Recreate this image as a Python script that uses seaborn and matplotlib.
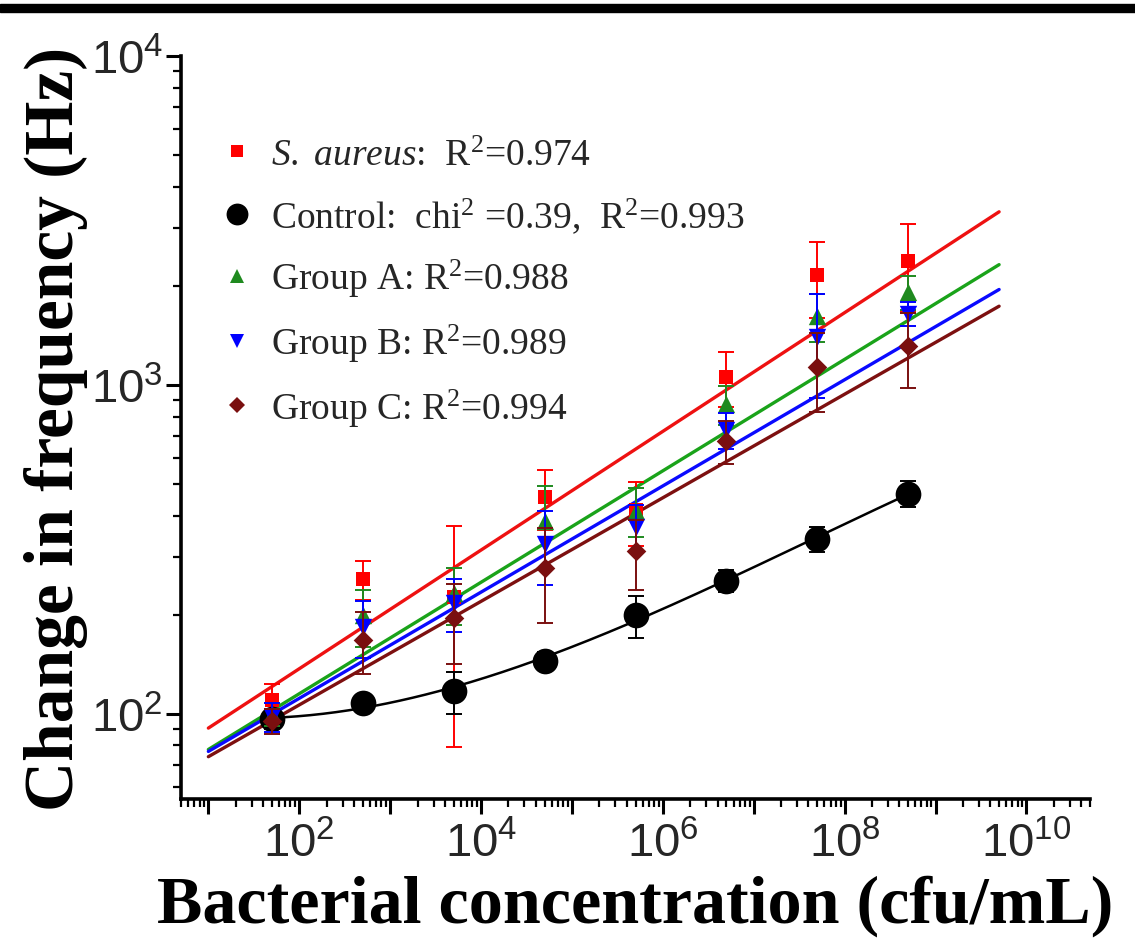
import numpy as np
import pandas as pd
import matplotlib
matplotlib.use("Agg")
import matplotlib.pyplot as plt
import seaborn as sns
from matplotlib.lines import Line2D
from matplotlib.patches import Rectangle
from matplotlib.ticker import LogLocator, FuncFormatter, NullFormatter

# ---------------- data ----------------
conc = [5e1, 5e2, 5e3, 5e4, 5e5, 5e6, 5e7, 5e8]
saureus = [110, 257, 226, 457, 415, 1057, 2158, 2382]
saureus_err = [13, 35, 147, 95, 92, 200, 560, 700]
control = [96, 108, 117, 145, 199, 254, 340, 467]
control_err = [6, 6, 17, 9, 29, 20, 30, 42]
group_a = [100, 199, 232, 384, 414, 875, 1622, 1918]
group_a_err = [8, 39, 46, 109, 70, 120, 268, 228]
group_b = [98, 184, 217, 329, 370, 730, 1400, 1645]
group_b_err = [10, 36, 40, 83, 60, 90, 490, 136]
group_c = [95, 168, 195, 278, 312, 676, 1134, 1315]
group_c_err = [8, 36, 53, 90, 75, 100, 307, 340]

# linear fits in log-log space (log10 y = a + b log10 x)
fit_x_range = [10, 5e9]
fit_intercepts = [1.7755, 1.7215, 1.7235, 1.7115]
fit_slopes = [0.1805, 0.1695, 0.1615, 0.1575]

labels = [r"$\mathit{S.\ aureus}$:  R$^2$=0.974",
          r"Control:  chi$^2$ =0.39,  R$^2$=0.993",
          r"Group A: R$^2$=0.988",
          r"Group B: R$^2$=0.989",
          r"Group C: R$^2$=0.994"]
x_label = "Bacterial concentration (cfu/mL)"
y_label = "Change in frequency (Hz)"

# ---------------- style ----------------
sns.set_theme(style="ticks")
plt.rcParams["font.family"] = ["Liberation Serif", "DejaVu Serif"]
plt.rcParams["mathtext.fontset"] = "custom"
plt.rcParams["mathtext.rm"] = "Liberation Serif"
plt.rcParams["mathtext.it"] = "Liberation Serif:italic"
plt.rcParams["mathtext.bf"] = "Liberation Serif:bold"
plt.rcParams["mathtext.sf"] = "Liberation Sans"

fig = plt.figure(figsize=(11.35, 9.53), dpi=100)
ax = fig.add_axes([181/1135, 1-800/953, (1090-181)/1135, (800-57)/953])

series = [
    (saureus, saureus_err, "#ff0000", "#ee1111", "s", 10),
    (control, control_err, "#000000", "#000000", "o", 18.5),
    (group_a, group_a_err, "#1f8a1f", "#1aa31a", "^", 12.5),
    (group_b, group_b_err, "#0000ff", "#0a0aff", "v", 12.5),
    (group_c, group_c_err, "#7a0f0f", "#7d1010", "D", 10),
]

# fit lines
xf = np.array(fit_x_range)
fit_order = [0, 2, 3, 4]
for k, idx in enumerate(fit_order):
    yf = 10 ** (fit_intercepts[k] + fit_slopes[k] * np.log10(xf))
    sns.lineplot(x=xf, y=yf, ax=ax, color=series[idx][3], linewidth=2.4,
                 zorder=2 + k * 0.01, legend=False)

# control curve: smooth cubic fit in log-log
lx = np.log10(conc)
coef = np.polyfit(lx, np.log10(control), 3)
xs = np.linspace(lx[0], lx[-1], 200)
sns.lineplot(x=10 ** xs, y=10 ** np.polyval(coef, xs), ax=ax, color="black",
             linewidth=1.8, zorder=2.1, legend=False)

# error bars and markers
for i, (vals, err, mcol, lcol, mk, ms) in enumerate(series):
    ax.errorbar(conc, vals, yerr=err, fmt="none", ecolor=mcol, elinewidth=1.4,
                capsize=6, capthick=1.4, zorder=3 + i)
    df = pd.DataFrame({"x": conc, "y": vals})
    sns.scatterplot(data=df, x="x", y="y", ax=ax, marker=mk, s=(ms ** 2),
                    color=mcol, edgecolor=mcol, linewidth=0, zorder=3.5 + i,
                    legend=False)

ax.set_xscale("log")
ax.set_yscale("log")
ax.set_xlim(5, 5e10)
ax.set_ylim(55, 1e4)

fmt = FuncFormatter(lambda v, p: r"$\mathsf{10^{%d}}$" % int(round(np.log10(v))))
ax.xaxis.set_minor_locator(LogLocator(base=10, subs=np.arange(2, 10), numticks=50))
ax.xaxis.set_minor_formatter(NullFormatter())
ax.set_xticks([1e1, 1e2, 1e3, 1e4, 1e5, 1e6, 1e7, 1e8, 1e9, 1e10])
ax.set_xticklabels(["", r"$\mathsf{10^{2}}$", "", r"$\mathsf{10^{4}}$", "",
                    r"$\mathsf{10^{6}}$", "", r"$\mathsf{10^{8}}$", "",
                    r"$\mathsf{10^{10}}$"])
ax.yaxis.set_major_locator(LogLocator(base=10, numticks=10))
ax.yaxis.set_minor_locator(LogLocator(base=10, subs=np.arange(2, 10), numticks=50))
ax.yaxis.set_major_formatter(fmt)
ax.yaxis.set_minor_formatter(NullFormatter())

ax.tick_params(axis="both", which="major", direction="out", length=11, width=2.2,
               labelsize=34, color="black", pad=5)
ax.tick_params(axis="y", which="major", pad=2)
ax.tick_params(axis="both", which="minor", direction="out", length=6, width=1.6,
               color="black")
sns.despine(ax=ax)
for s in ["left", "bottom"]:
    ax.spines[s].set_linewidth(2.6)
    ax.spines[s].set_color("black")

ax.set_xlabel(x_label, fontsize=49, fontweight="bold", labelpad=6,
              family="Liberation Serif", color="black")
ax.set_ylabel(y_label, fontsize=50, fontweight="bold", labelpad=2,
              family="Liberation Serif", color="black")

# legend
handles = [Line2D([], [], linestyle="none", marker=s[4], color=s[2],
                  markeredgewidth=0, markersize=s[5] * 0.85) for s in series]
ax.legend(handles, labels, loc="upper left", bbox_to_anchor=(0.004, 0.935),
          frameon=False, prop={"family": "Liberation Serif", "size": 27},
          labelspacing=0.6, handletextpad=0.4, handlelength=1.0)

# black rule across the top
fig.patches.append(Rectangle((0, 1 - 13/953), 1, 8/953, transform=fig.transFigure,
                             color="black", zorder=10))

fig.savefig("out.png", dpi=100)
